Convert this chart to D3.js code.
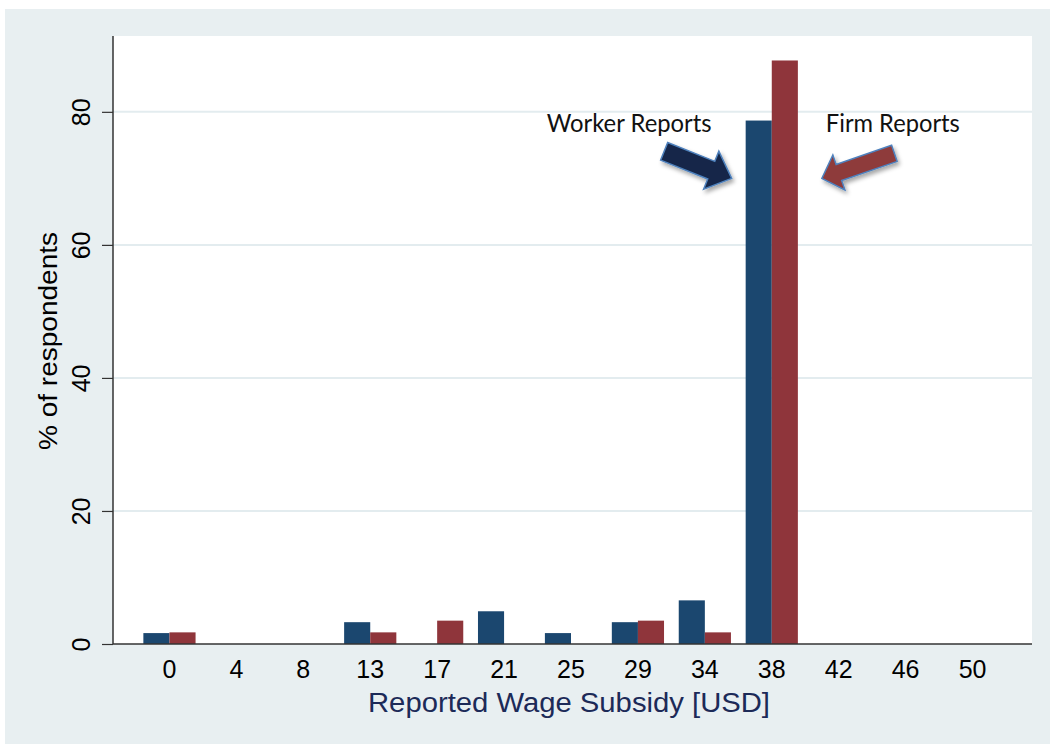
<!DOCTYPE html>
<html>
<head>
<meta charset="utf-8">
<script src="https://cdn.jsdelivr.net/npm/d3@7"></script>
<style>
html,body{margin:0;padding:0;background:#fff;}
svg{display:block;}
</style>
</head>
<body>
<svg id="chart" width="1050" height="744"></svg>
<script>
// ---- data ----
const categories = ["0","4","8","13","17","21","25","29","34","38","42","46","50"];
const workerReports = [1.64, 0, 0, 3.28, 0, 4.92, 1.64, 3.28, 6.56, 78.69, 0, 0, 0];
const firmReports   = [1.75, 0, 0, 1.75, 3.51, 0, 0, 3.51, 1.75, 87.72, 0, 0, 0];
const seriesNames = ["Worker Reports", "Firm Reports"];
const yTicks = [0, 20, 40, 60, 80];
const xTitle = "Reported Wage Subsidy [USD]";
const yTitle = "% of respondents";

// ---- layout ----
const W = 1050, H = 744;
const plot = {x0: 113, x1: 1032, y0: 36, y1: 644};
const colors = {worker: "#1b476f", firm: "#8f353b", bg: "#e8eff1", grid: "#e3ecef"};

const svg = d3.select("#chart");
const defs = svg.append("defs");
const f = defs.append("filter").attr("id","shadow").attr("x","-30%").attr("y","-30%").attr("width","160%").attr("height","160%");
f.append("feDropShadow").attr("dx",2).attr("dy",3).attr("stdDeviation",2).attr("flood-color","#000").attr("flood-opacity",0.35);

svg.append("rect").attr("x",5).attr("y",9).attr("width",W-5).attr("height",H-9).attr("fill",colors.bg);
svg.append("rect").attr("x",plot.x0).attr("y",plot.y0).attr("width",plot.x1-plot.x0).attr("height",plot.y1-plot.y0).attr("fill","#fff");

const x = d3.scaleBand().domain(categories).range([plot.x0+23, plot.x1-26]).paddingInner(0.22).paddingOuter(0.11);
const xs = d3.scaleBand().domain(seriesNames).range([0, x.bandwidth()]);
const y = d3.scaleLinear().domain([0, 91.4]).range([plot.y1, plot.y0]);

// gridlines
svg.append("g").selectAll("line").data(yTicks.filter(d=>d>0)).join("line")
  .attr("x1",plot.x0).attr("x2",plot.x1)
  .attr("y1",d=>y(d)).attr("y2",d=>y(d))
  .attr("stroke",colors.grid).attr("stroke-width",2);

// bars
const rows = categories.map((c,i)=>({cat:c, vals:[
  {s:seriesNames[0], v:workerReports[i], col:colors.worker},
  {s:seriesNames[1], v:firmReports[i], col:colors.firm}]}));
const groups = svg.append("g").selectAll("g").data(rows).join("g")
  .attr("transform",d=>`translate(${x(d.cat)},0)`);
groups.selectAll("rect").data(d=>d.vals.filter(v=>v.v>0)).join("rect")
  .attr("x",d=>xs(d.s)).attr("width",xs.bandwidth())
  .attr("y",d=>y(d.v)).attr("height",d=>y(0)-y(d.v))
  .attr("fill",d=>d.col);

// y axis
const yAxis = d3.axisLeft(y).tickValues(yTicks).tickSize(11).tickFormat(d3.format("d"));
const ya = svg.append("g").attr("transform",`translate(${plot.x0},0)`).call(yAxis);
ya.select(".domain").attr("stroke","#333").attr("stroke-width",1.5).attr("d",`M0,${plot.y0}V${plot.y1}`);
ya.selectAll(".tick line").attr("stroke","#333").attr("stroke-width",1.2);
ya.selectAll(".tick text").attr("x",0).attr("dy",0)
  .attr("transform","translate(-23,0) rotate(-90)")
  .attr("text-anchor","middle")
  .attr("font-family","Liberation Sans, Arial, sans-serif").attr("font-size",25).attr("fill","#000");

// x axis
const xAxis = d3.axisBottom(x).tickSize(0).tickPadding(0);
const xa = svg.append("g").attr("transform",`translate(0,${plot.y1})`).call(xAxis);
xa.select(".domain").attr("stroke","#333").attr("stroke-width",1.5).attr("d",`M${plot.x0},0H${plot.x1}`);
xa.selectAll(".tick text").attr("y",34).attr("dy",0)
  .attr("font-family","Liberation Sans, Arial, sans-serif").attr("font-size",25).attr("fill","#000");

// axis titles
svg.append("text").attr("x",569).attr("y",712).attr("text-anchor","middle")
  .attr("font-family","Liberation Sans, Arial, sans-serif").attr("font-size",27).attr("fill","#1c2a58")
  .attr("textLength",402).attr("lengthAdjust","spacingAndGlyphs").text(xTitle);
svg.append("text").attr("transform","translate(57,341) rotate(-90)").attr("text-anchor","middle")
  .attr("font-family","Liberation Sans, Arial, sans-serif").attr("font-size",26).attr("fill","#000")
  .attr("textLength",218).attr("lengthAdjust","spacingAndGlyphs").text(yTitle);

// annotation arrows
function blockArrow(tip, tail, shaftW, headW, headL){
  const dx = tip[0]-tail[0], dy = tip[1]-tail[1];
  const L = Math.hypot(dx,dy), ux = dx/L, uy = dy/L, nx = -uy, ny = ux;
  const b = [tip[0]-ux*headL, tip[1]-uy*headL];
  const pts = [
    [tail[0]+nx*shaftW/2, tail[1]+ny*shaftW/2],
    [b[0]+nx*shaftW/2, b[1]+ny*shaftW/2],
    [b[0]+nx*headW/2, b[1]+ny*headW/2],
    tip,
    [b[0]-nx*headW/2, b[1]-ny*headW/2],
    [b[0]-nx*shaftW/2, b[1]-ny*shaftW/2],
    [tail[0]-nx*shaftW/2, tail[1]-ny*shaftW/2]
  ];
  return "M"+pts.map(p=>p.join(",")).join("L")+"Z";
}
const blueLeft = x("38") + xs(seriesNames[0]);
const redRight = x("38") + xs(seriesNames[1]) + xs.bandwidth();
const wTip = [blueLeft-14, y(70)];
const fTip = [redRight+24, y(70)];
svg.append("path").attr("d",blockArrow(wTip,[wTip[0]-67.5,wTip[1]-27],19,41,22))
  .attr("fill","#13284a").attr("stroke","#4f81bd").attr("stroke-width",1.5).attr("filter","url(#shadow)");
svg.append("path").attr("d",blockArrow(fTip,[fTip[0]+72.5,fTip[1]-25],17,37,18))
  .attr("fill","#8e3a3a").attr("stroke","#4f81bd").attr("stroke-width",1.5).attr("filter","url(#shadow)");

svg.append("text").attr("x",wTip[0]-20).attr("y",y(77)).attr("text-anchor","end")
  .attr("font-family","Lato, sans-serif").attr("font-size",25).attr("fill","#111")
  .attr("textLength",165).attr("lengthAdjust","spacingAndGlyphs").text(seriesNames[0]);
svg.append("text").attr("x",fTip[0]+4).attr("y",y(77)).attr("text-anchor","start")
  .attr("font-family","Lato, sans-serif").attr("font-size",25).attr("fill","#111")
  .attr("textLength",134).attr("lengthAdjust","spacingAndGlyphs").text(seriesNames[1]);
</script>
</body>
</html>
